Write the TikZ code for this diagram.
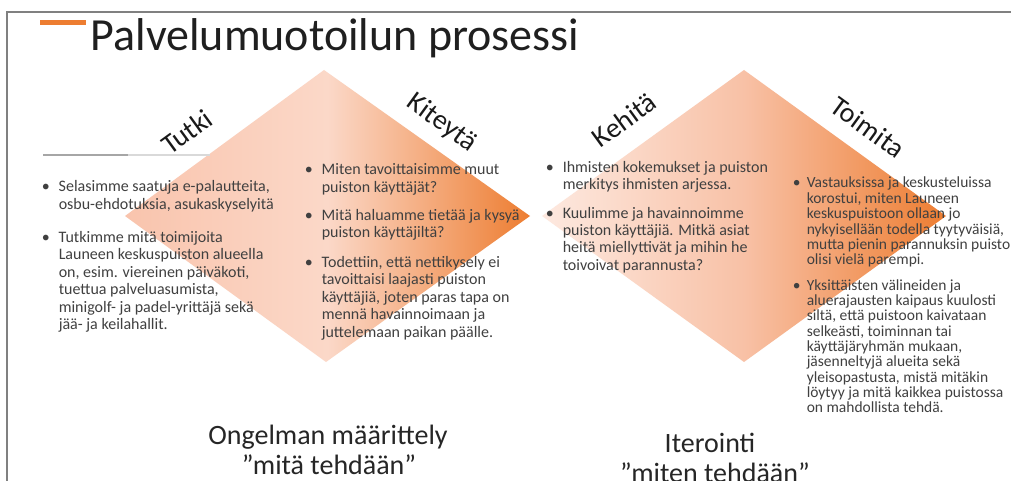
\documentclass[tikz,border=0pt]{standalone}
\usepackage{fontspec}
\setmainfont{Carlito}
\definecolor{oranssi}{HTML}{ED7D31}
\definecolor{lohi}{HTML}{F9C4AD}
\definecolor{vaalea}{HTML}{FBD8C8}
\definecolor{haalea}{HTML}{FDE9E0}
\definecolor{keski}{HTML}{F8C1A6}
\definecolor{teksti}{HTML}{404040}
\definecolor{kehys}{HTML}{808080}
\newcommand{\kohta}[2][17pt]{\makebox[#1][l]{\textbullet}\begin{tabular}[t]{@{}l@{}}#2\end{tabular}}

\begin{document}
\begin{tikzpicture}[x=1pt,y=-1pt,line width=1.5pt,
  vaihe/.style={inner sep=0pt,text=black!90,font=\fontsize{28}{32}\selectfont},
  kohdat/.style={anchor=base west,inner sep=0pt,text=teksti,font=\fontsize{16}{17.5}\selectfont},
  tiivis/.style={anchor=base west,inner sep=0pt,text=teksti,font=\fontsize{15.5}{15.3}\selectfont},
  alaotsikko/.style={anchor=base,inner sep=0pt,text=black!85,font=\fontsize{28}{30}\selectfont}]
  \useasboundingbox (0,0) rectangle (1011,481);
  \fill[white] (0,0) rectangle (1011,481);

  % timanttien kulmat
  \coordinate (A1) at (125,216);
  \coordinate (B1) at (324,70);
  \coordinate (C1) at (530,216);
  \coordinate (D1) at (326,362);
  \coordinate (A2) at (542,216);
  \coordinate (B2) at (744,70);
  \coordinate (C2) at (946,216);
  \coordinate (D2) at (744,362);

  % timantit
  \shade[left color=lohi,right color=oranssi,middle color=vaalea] (A1) -- (B1) -- (C1) -- (D1) -- cycle;
  \shade[left color=haalea,right color=oranssi,middle color=keski] (A2) -- (B2) -- (C2) -- (D2) -- cycle;

  % kehys ja otsikko
  \draw[kehys,line width=2pt] (7,481) -- (7,12) -- (1011,12);
  \fill[oranssi] (40,20) rectangle (86,25);
  \node[anchor=base west,inner sep=0pt,text=black!88,font=\fontsize{46}{50}\selectfont] (otsikko) at (90,51) {Palvelumuotoilun prosessi};

  % harmaa viiva
  \draw[black!35] (43,155) -- (128,155);
  \draw[black!15] (128,155) -- (210,155);

  % vaiheet
  \node[vaihe,rotate=36] (tutki) at (187,132) {Tutki};
  \node[vaihe,rotate=-36] (kiteyta) at (442,123) {Kiteytä};
  \node[vaihe,rotate=36] (kehita) at (624,120) {Kehitä};
  \node[vaihe,rotate=-36] (toimita) at (868,127) {Toimita};

  % Tutki
  \node[kohdat] (tutki1) at (41,192) {\kohta{Selasimme saatuja e-palautteita,\\osbu-ehdotuksia, asukaskyselyitä}};
  \node[kohdat] (tutki2) at (41,242) {\kohta{Tutkimme mitä toimijoita\\Launeen keskuspuiston alueella\\on, esim. viereinen päiväkoti,\\tuettua palveluasumista,\\minigolf- ja padel-yrittäjä sekä\\jää- ja keilahallit.}};

  % Kiteytä
  \node[kohdat] (kiteyta1) at (304,175) {\kohta{Miten tavoittaisimme muut\\puiston käyttäjät?}};
  \node[kohdat] (kiteyta2) at (304,220) {\kohta{Mitä haluamme tietää ja kysyä\\puiston käyttäjiltä?}};
  \node[kohdat] (kiteyta3) at (304,267) {\kohta{Todettiin, että nettikysely ei\\tavoittaisi laajasti puiston\\käyttäjiä, joten paras tapa on\\mennä havainnoimaan ja\\juttelemaan paikan päälle.}};

  % Kehitä
  \node[kohdat] (kehita1) at (545,172) {\kohta{Ihmisten kokemukset ja puiston\\merkitys ihmisten arjessa.}};
  \node[kohdat] (kehita2) at (545,218) {\kohta{Kuulimme ja havainnoimme\\puiston käyttäjiä. Mitkä asiat\\heitä miellyttivät ja mihin he\\toivoivat parannusta?}};

  % Toimita
  \node[tiivis] (toimita1) at (792,188) {\kohta[14pt]{Vastauksissa ja keskusteluissa\\korostui, miten Launeen\\keskuspuistoon ollaan jo\\nykyisellään todella tyytyväisiä,\\mutta pienin parannuksin puisto\\olisi vielä parempi.}};
  \node[tiivis] (toimita2) at (792,290) {\kohta[14pt]{Yksittäisten välineiden ja\\aluerajausten kaipaus kuulosti\\siltä, että puistoon kaivataan\\selkeästi, toiminnan tai\\käyttäjäryhmän mukaan,\\jäsenneltyjä alueita sekä\\yleisopastusta, mistä mitäkin\\löytyy ja mitä kaikkea puistossa\\on mahdollista tehdä.}};

  % alaotsikot
  \node[alaotsikko] (ongelma) at (328,444) {Ongelman määrittely};
  \node[alaotsikko] (mita) at (329,474) {”mitä tehdään”};
  \node[alaotsikko] (iterointi) at (710,452) {Iterointi};
  \node[alaotsikko] (miten) at (715,482) {”miten tehdään”};
\end{tikzpicture}
\end{document}
